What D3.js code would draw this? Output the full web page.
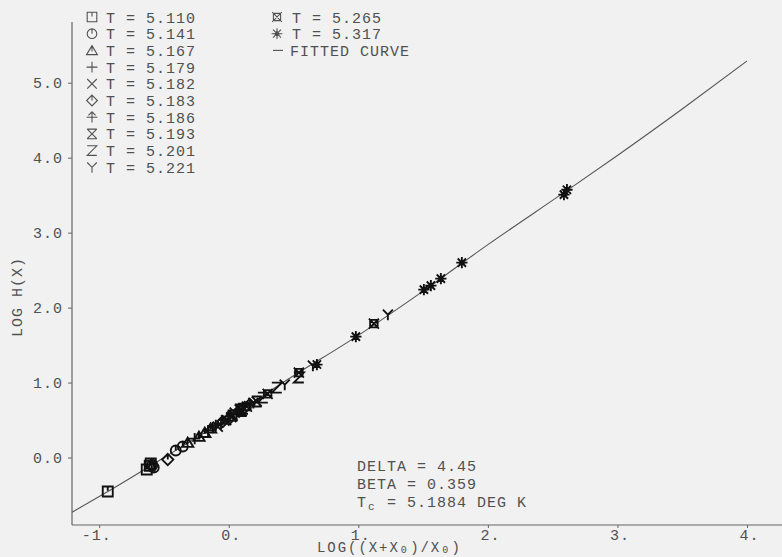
<!DOCTYPE html>
<html lang="en">
<head>
  <meta charset="UTF-8">
  <title>Scaling plot LOG H(X)</title>
  <script src="https://cdn.jsdelivr.net/npm/d3@7"></script>
  <style>
    html, body { margin: 0; padding: 0; background: #f1f1f1; }
    svg { display: block; }
    text { font-family: "Liberation Mono", "DejaVu Sans Mono", monospace; font-size: 15px; fill: #505050; letter-spacing: 1px; }
  </style>
</head>
<body>
  <svg id="chart" width="782" height="557"></svg>

  <script>
    // legend / series definitions
    const temps  = ["5.110", "5.141", "5.167", "5.179", "5.182", "5.183", "5.186", "5.193", "5.201", "5.221", "5.265", "5.317"];
    const shapes = ["sq", "circ", "tri", "plus", "x", "diam", "arrow", "hour", "z", "y", "sqx", "ast"];

    // points: [log((x+x0)/x0), log h(x)]
    const s5110 = [[-0.934, -0.453], [-0.633, -0.160], [-0.602, -0.080], [-0.610, -0.110]];
    const s5141 = [[-0.579, -0.133], [-0.409, 0.093], [-0.355, 0.147], [-0.590, -0.100]];
    const s5167 = [[-0.317, 0.200], [-0.185, 0.333], [-0.230, 0.280], [-0.140, 0.390]];
    const s5179 = [[-0.263, 0.253], [-0.124, 0.400], [-0.160, 0.360], [-0.100, 0.430]];
    const s5182 = [[-0.085, 0.413], [0.046, 0.600], [-0.020, 0.500], [0.020, 0.540]];
    const s5183 = [[-0.471, -0.027], [-0.046, 0.480], [0.124, 0.667], [0.000, 0.510]];
    const s5186 = [[0.008, 0.547], [0.162, 0.707], [0.060, 0.590], [-0.060, 0.450]];
    const s5193 = [[0.085, 0.640], [0.216, 0.747], [0.030, 0.560], [0.100, 0.620]];
    const s5201 = [[0.263, 0.800], [0.371, 0.933], [0.541, 1.067], [0.110, 0.650]];
    const s5221 = [[0.432, 0.973], [0.649, 1.227], [1.228, 1.907], [0.190, 0.730]];
    const s5265 = [[0.541, 1.133], [1.120, 1.787], [0.300, 0.850], [0.140, 0.680]];
    const s5317 = [[0.680, 1.240], [0.981, 1.613], [1.506, 2.240], [1.560, 2.293],
                   [1.637, 2.387], [1.799, 2.600], [2.587, 3.507], [2.610, 3.573]];
    const series = [s5110, s5141, s5167, s5179, s5182, s5183, s5186, s5193, s5201, s5221, s5265, s5317];

    // fitted curve
    const curveX = [-1.21, -0.93, -0.5, 0.0, 0.5, 1.0, 1.5, 2.0, 2.6, 3.0, 3.5, 4.0];
    const curveY = [-0.73, -0.45, 0.00, 0.53, 1.09, 1.63, 2.22, 2.84, 3.55, 4.03, 4.65, 5.29];

    const xTicks = [-1, 0, 1, 2, 3, 4];
    const xTickLabels = ["-1.", "0.", "1.", "2.", "3.", "4."];
    const yTicks = [0, 1, 2, 3, 4, 5];
    const yTickLabels = ["0.0", "1.0", "2.0", "3.0", "4.0", "5.0"];

    const svg = d3.select("#chart");
    const ink = "#505050";

    const x = d3.scaleLinear().domain([-1.21, 4.27]).range([72, 782]);
    const y = d3.scaleLinear().domain([-0.9, 5.81]).range([525, 22]);

    function shapePath(name) {
      switch (name) {
        case "sq":    return "M-4,-4H4V4H-4Z M0,-4V-0.5";
        case "circ":  return "M4,0A4,4 0 1,1 -4,0A4,4 0 1,1 4,0Z M0,-4V0";
        case "tri":   return "M-4.5,3.5L0,-4L4.5,3.5Z M0,-4V1";
        case "plus":  return "M-4.5,0H4.5 M0,-4.5V4.5";
        case "x":     return "M-4,-4L4,4 M-4,4L4,-4";
        case "diam":  return "M0,-4.5L4.5,0L0,4.5L-4.5,0Z M0,-4.5V0";
        case "arrow": return "M-4.5,0H4.5 M0,-4.5V4.5 M-3,-1.5L0,-4.5L3,-1.5";
        case "hour":  return "M-4,-4H4 M-4,4H4 M-4,-4L4,4 M4,-4L-4,4";
        case "z":     return "M-4,-4H4L-4,4H4";
        case "y":     return "M-4,-4L0,0L4,-4 M0,0V4.5";
        case "sqx":   return "M-4,-4L4,4 M4,-4L-4,4 M-2.5,-3H2.5 M-2.5,3H2.5 M-3,-2.5V2.5 M3,-2.5V2.5";
        case "ast":   return "M-4.5,0H4.5 M0,-4.5V4.5 M-3.3,-3.3L3.3,3.3 M-3.3,3.3L3.3,-3.3 M-2,0L0,-2L2,0L0,2Z";
      }
    }

    // axes
    const yAxis = d3.axisLeft(y).tickValues(yTicks).tickSize(4).tickPadding(5)
      .tickFormat((d, i) => yTickLabels[i]);
    const gy = svg.append("g").attr("transform", "translate(72,0)").call(yAxis);
    gy.select(".domain").attr("d", `M0,${y.range()[1]}V${y.range()[0]}`);

    const xAxis = d3.axisBottom(x).tickValues(xTicks).tickSize(3).tickPadding(1)
      .tickFormat((d, i) => xTickLabels[i]);
    const gx = svg.append("g").attr("transform", "translate(0,525)").call(xAxis);
    gx.select(".domain").attr("d", `M${x.range()[0]},0H${x.range()[1]}`);
    gx.selectAll(".tick text")
      .attr("text-anchor", "start")
      .attr("x", (d, i) => -8 - 10 * (xTickLabels[i].length - 2));

    svg.selectAll(".domain").attr("stroke", "#666").attr("stroke-width", 1.2);
    svg.selectAll(".tick line").attr("stroke", "#666");
    svg.selectAll(".tick text").attr("fill", ink).style("font-size", "15px")
      .style("font-family", "'Liberation Mono', monospace");

    // axis titles
    svg.append("text")
      .attr("transform", "translate(22,297) rotate(-90)")
      .attr("text-anchor", "middle")
      .text("LOG H(X)");

    const xt = svg.append("text").style("letter-spacing", "1.95px");
    const xtParts = [["LOG((X+X", false], ["0", true], [")/X", false], ["0", true], [")", false]];
    let cx = 317;
    xtParts.forEach(([s, sub]) => {
      xt.append("tspan")
        .attr("x", sub ? cx + 1 : cx)
        .attr("y", sub ? 553 : 552)
        .style("font-size", sub ? "10px" : "14px")
        .text(s);
      cx += s.length * 10.35;
    });

    // fitted curve
    const line = d3.line()
      .x(d => x(d))
      .y((d, i) => y(curveY[i]))
      .curve(d3.curveMonotoneX);
    svg.append("path")
      .datum(curveX)
      .attr("d", line)
      .attr("fill", "none")
      .attr("stroke", "#555")
      .attr("stroke-width", 1.1);

    // data points
    series.forEach((pts, k) => {
      svg.append("g").selectAll("path")
        .data(pts)
        .join("path")
          .attr("transform", d => `translate(${x(d[0])},${y(d[1])}) scale(1.25)`)
          .attr("d", shapePath(shapes[k]))
          .attr("fill", shapes[k] === "ast" ? "#111" : "none")
          .attr("stroke", "#111")
          .attr("stroke-width", 1.5);
    });

    // legend
    const rowH = 16.7;
    temps.forEach((t, i) => {
      const col = i < 10 ? 0 : 1;
      const row = i < 10 ? i : i - 10;
      const mx = col === 0 ? 92 : 277;
      const tx = col === 0 ? 106 : 292;
      const cy = 17 + row * rowH;
      svg.append("path")
        .attr("transform", `translate(${mx},${cy}) scale(1.2)`)
        .attr("d", shapePath(shapes[i]))
        .attr("fill", "none")
        .attr("stroke", ink)
        .attr("stroke-width", 0.9);
      svg.append("text")
        .attr("x", tx).attr("y", cy + 5.5)
        .text(`T = ${t}`);
    });
    svg.append("line")
      .attr("x1", 273).attr("x2", 283)
      .attr("y1", 17 + 2 * rowH).attr("y2", 17 + 2 * rowH)
      .attr("stroke", ink).attr("stroke-width", 1.1);
    svg.append("text")
      .attr("x", 290).attr("y", 17 + 2 * rowH + 5.5)
      .text("FITTED CURVE");

    // fit parameters
    const ann = svg.append("g");
    ann.append("text").attr("x", 357).attr("y", 471).text("DELTA = 4.45");
    ann.append("text").attr("x", 357).attr("y", 489).text("BETA = 0.359");
    const tc = ann.append("text").attr("y", 507);
    tc.append("tspan").attr("x", 357).text("T");
    tc.append("tspan").attr("x", 368).attr("y", 510).style("font-size", "11px").text("c");
    tc.append("tspan").attr("x", 387).attr("y", 507).text("= 5.1884 DEG K");
  </script>
</body>
</html>
